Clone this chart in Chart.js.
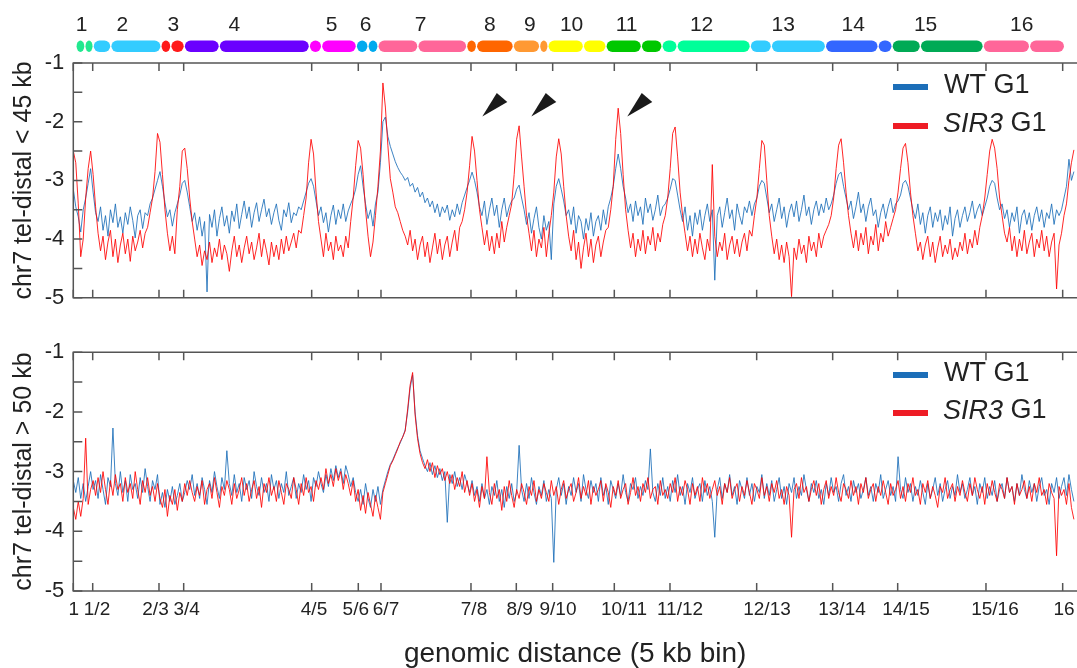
<!DOCTYPE html>
<html><head><meta charset="utf-8">
<script src="https://cdn.jsdelivr.net/npm/chart.js@4.4.1/dist/chart.umd.min.js"></script>
<style>
html,body{margin:0;padding:0;background:#fff;overflow:hidden;width:1077px;height:668px;position:relative}
#c1{position:absolute;left:0;top:0}
#c2{position:absolute;left:0;top:330px}
</style></head><body>
<canvas id="c1" width="1077" height="320"></canvas>
<canvas id="c2" width="1077" height="338"></canvas>
<script>
// ---------- data ----------
const BIN_STEP = 6; // 5-kb bins between successive sampled values
const tickBins = [0,47,207.6,267.4,577.5,690.4,745.4,963.4,1073.2,1161.3,1310.6,1445.5,1655.5,1839.6,1997.1,2211,2396.8];
const tickLabels = ['1','1/2','2/3','3/4','4/5','5/6','6/7','7/8','8/9','9/10','10/11','11/12','12/13','13/14','14/15','15/16','16'];
const tickLabelBins = [1,57.4,199.1,274.7,583.1,684.4,757.5,970.7,1081.4,1174.2,1334.1,1469.7,1680.5,1862.2,2017.2,2232.8,2400];
const yTicks = [-5,-4,-3,-2,-1];
const chrNames = ['1','2','3','4','5','6','7','8','9','10','11','12','13','14','15','16'];
const chrLenKb = [210,830,285,1530,575,265,1085,570,425,710,685,1080,920,815,1115,995];
const cenKb = [109,216,120,428,150,143,488,120,323,433,432,184,258,644,346,567];
const chrLabelKb = [70,566,1190,1937,3128,3544,4217,5065,5554,6064,6737,7654,8653,9509,10395,11570];
const chrColors = ['#22e88f','#33ccff','#ff1a1a','#6a00ff','#ff00ff','#00aaee','#ff6699','#ff6600','#ff9933','#ffff00','#00c800','#00ff99','#33ccff','#3366ff','#00aa55','#ff6699'];
const arrowTips = [[990.8,-1.91],[1109.5,-1.91],[1342,-1.91]];

const topWT = [
-3.15,-3.45,-3.62,-3.88,-3.5,-3.3,-3.05,-2.8,-3.2,-3.55,
-3.7,-3.45,-3.85,-3.6,-3.95,-3.5,-3.72,-3.4,-3.8,-3.62,
-3.9,-3.55,-3.75,-3.45,-3.68,-3.98,-3.6,-3.5,-3.82,-3.55,
-3.6,-3.4,-3.3,-3.15,-3.0,-2.85,-3.1,-3.38,-3.62,-3.5,
-3.78,-3.55,-3.4,-3.25,-3.05,-3.0,-3.2,-3.45,-3.7,-3.55,
-3.85,-3.62,-3.95,-3.7,-4.9,-3.58,-3.8,-3.5,-3.95,-3.65,
-3.45,-3.78,-3.6,-3.9,-3.52,-3.7,-3.4,-3.82,-3.58,-3.35,
-3.65,-3.45,-3.8,-3.55,-3.38,-3.7,-3.5,-3.32,-3.62,-3.48,
-3.75,-3.55,-3.4,-3.68,-3.85,-3.5,-3.62,-3.38,-3.72,-3.55,
-3.6,-3.45,-3.5,-3.35,-3.2,-3.05,-2.97,-3.1,-3.35,-3.6,
-3.45,-3.72,-3.55,-3.88,-3.6,-3.42,-3.75,-3.5,-3.65,-3.4,
-3.7,-3.52,-3.4,-3.3,-3.15,-2.9,-2.75,-3.1,-3.4,-3.65,
-3.5,-3.78,-3.4,-3.2,-2.7,-2.0,-1.92,-2.25,-2.42,-2.55,
-2.68,-2.78,-2.86,-2.92,-3.0,-2.95,-3.1,-3.05,-3.2,-3.12,
-3.28,-3.2,-3.38,-3.3,-3.45,-3.35,-3.55,-3.4,-3.62,-3.45,
-3.55,-3.42,-3.68,-3.5,-3.62,-3.4,-3.58,-3.38,-3.25,-3.12,
-3.0,-2.86,-3.0,-3.2,-3.45,-3.6,-3.35,-3.75,-3.5,-3.3,
-3.6,-3.42,-3.8,-3.5,-3.3,-3.62,-3.45,-3.35,-3.3,-3.15,
-3.08,-3.3,-3.5,-3.75,-3.55,-3.9,-3.65,-3.45,-3.8,-4.0,
-3.6,-3.85,-3.7,-4.35,-3.4,-3.1,-2.97,-3.15,-3.35,-3.6,
-3.5,-3.75,-3.45,-3.9,-3.6,-3.7,-4.0,-3.65,-3.85,-3.55,
-3.95,-3.7,-3.6,-3.85,-3.5,-3.75,-3.45,-3.3,-3.1,-2.8,
-2.55,-2.8,-3.1,-3.3,-3.55,-3.4,-3.7,-3.35,-3.6,-3.45,
-3.75,-3.3,-3.55,-3.4,-3.68,-3.5,-3.25,-3.6,-3.45,-3.4,
-3.3,-3.15,-2.97,-3.0,-3.25,-3.5,-3.7,-3.45,-3.85,-3.6,
-3.95,-3.55,-3.75,-3.5,-3.85,-3.6,-3.4,-3.7,-3.5,-4.7,
-3.6,-3.45,-3.8,-3.55,-3.3,-3.65,-3.5,-3.85,-3.4,-3.6,
-3.75,-3.45,-3.55,-3.35,-3.6,-3.4,-3.3,-3.1,-3.0,-3.05,
-3.3,-3.55,-3.4,-3.7,-3.5,-3.3,-3.65,-3.45,-3.8,-3.55,
-3.4,-3.62,-3.35,-3.7,-3.5,-3.25,-3.6,-3.45,-3.75,-3.5,
-3.35,-3.6,-3.4,-3.55,-3.3,-3.5,-3.4,-3.25,-3.05,-2.9,
-2.86,-3.1,-3.3,-3.5,-3.35,-3.65,-3.45,-3.2,-3.55,-3.4,
-3.7,-3.45,-3.3,-3.6,-3.5,-3.8,-3.55,-3.4,-3.65,-3.45,
-3.3,-3.55,-3.4,-3.35,-3.25,-3.05,-3.0,-3.1,-3.3,-3.5,
-3.65,-3.4,-3.75,-3.55,-3.9,-3.6,-3.45,-3.8,-3.55,-3.7,
-3.5,-3.85,-3.6,-3.75,-3.45,-3.95,-3.65,-3.5,-3.8,-3.6,
-3.45,-3.7,-3.55,-3.35,-3.65,-3.5,-3.4,-3.6,-3.45,-3.3,
-3.1,-3.0,-3.05,-3.3,-3.5,-3.4,-3.65,-3.5,-3.8,-3.55,
-3.7,-3.45,-3.9,-3.6,-3.5,-3.75,-3.55,-3.85,-3.6,-3.45,
-3.7,-3.5,-3.8,-3.55,-3.65,-3.4,-3.75,-3.5,-3.6,-3.5,
-3.3,-3.1,-2.64,-3.0,-2.85];

const topSIR3 = [
-2.5,-2.7,-3.4,-4.3,-4.0,-3.3,-2.8,-2.5,-2.9,-3.45,
-3.9,-4.2,-3.95,-4.35,-4.05,-3.85,-4.3,-4.0,-4.4,-4.1,
-3.9,-4.25,-4.0,-4.38,-3.95,-4.2,-4.05,-3.85,-4.15,-3.9,
-3.8,-3.55,-3.3,-2.85,-2.2,-2.35,-2.9,-3.5,-3.9,-4.2,
-3.95,-4.25,-3.5,-3.1,-2.5,-2.45,-2.8,-3.3,-3.7,-4.0,
-4.3,-4.1,-4.45,-4.2,-4.35,-4.05,-4.4,-4.15,-4.3,-4.0,
-4.35,-4.1,-4.25,-4.55,-4.2,-3.95,-4.3,-4.1,-4.4,-4.15,
-3.95,-4.25,-4.05,-4.35,-4.15,-3.9,-4.3,-4.0,-4.2,-4.44,
-4.05,-4.3,-4.1,-4.35,-4.0,-4.25,-3.95,-4.2,-4.05,-3.9,
-4.15,-3.85,-3.9,-3.6,-3.3,-2.7,-2.3,-2.55,-3.2,-3.7,
-4.0,-4.3,-3.9,-4.2,-4.05,-4.35,-3.95,-4.2,-4.1,-4.3,
-3.95,-4.15,-3.7,-3.3,-2.75,-2.32,-2.45,-2.9,-3.5,-3.95,
-4.3,-4.05,-3.6,-3.1,-2.5,-1.34,-1.75,-2.4,-2.97,-3.2,
-3.45,-3.55,-3.7,-3.85,-3.95,-4.1,-3.85,-4.2,-4.0,-4.35,
-4.1,-3.95,-4.3,-4.05,-4.4,-4.15,-3.9,-4.25,-4.0,-4.35,
-4.1,-3.95,-4.3,-4.05,-3.85,-4.2,-3.8,-3.7,-3.5,-3.2,
-2.75,-2.25,-2.5,-3.0,-3.5,-3.8,-4.1,-3.85,-4.2,-3.95,
-4.25,-3.9,-4.15,-3.7,-4.05,-3.8,-3.6,-3.4,-2.9,-2.3,
-2.07,-2.6,-3.1,-3.6,-3.9,-4.2,-3.85,-4.3,-4.0,-4.15,
-3.8,-4.3,-3.9,-3.6,-3.2,-2.6,-2.29,-2.55,-3.1,-3.6,
-3.95,-4.2,-3.85,-4.35,-4.05,-4.5,-4.15,-3.9,-4.3,-4.0,
-4.4,-4.1,-3.95,-4.3,-4.05,-3.85,-3.8,-3.5,-3.1,-2.3,
-1.77,-2.2,-2.9,-3.5,-3.85,-4.15,-3.9,-4.3,-4.0,-4.2,
-3.85,-4.25,-3.95,-4.1,-3.8,-4.2,-3.9,-4.05,-3.75,-3.6,
-3.3,-2.8,-2.2,-2.09,-2.6,-3.2,-3.6,-3.9,-4.2,-3.95,
-4.3,-4.0,-4.25,-3.9,-4.15,-4.35,-4.0,-4.2,-2.73,-3.95,
-4.3,-4.05,-4.2,-3.9,-4.35,-4.1,-3.95,-4.25,-4.0,-4.3,
-4.05,-3.9,-4.2,-3.85,-3.95,-3.6,-3.3,-2.8,-2.32,-2.4,
-3.0,-3.6,-3.95,-4.25,-4.0,-4.35,-4.1,-4.4,-4.05,-4.3,
-4.98,-4.15,-4.35,-4.0,-4.25,-4.1,-4.4,-3.95,-4.2,-4.05,
-4.3,-3.9,-4.15,-3.95,-3.85,-3.75,-3.6,-3.3,-2.8,-2.4,
-2.29,-2.7,-3.2,-3.6,-3.9,-4.15,-3.85,-4.2,-3.9,-4.1,
-3.8,-4.25,-3.95,-4.1,-3.75,-4.2,-3.9,-4.05,-3.7,-3.95,
-3.8,-3.65,-3.5,-3.2,-2.8,-2.45,-2.37,-2.7,-3.2,-3.6,
-3.9,-4.2,-4.05,-4.35,-4.1,-3.95,-4.3,-4.05,-4.4,-4.15,
-3.95,-4.3,-4.1,-4.25,-4.0,-4.35,-4.15,-4.3,-4.05,-4.2,
-3.9,-4.25,-4.0,-4.15,-3.85,-4.1,-3.8,-3.6,-3.3,-2.9,
-2.5,-2.3,-2.45,-2.8,-3.3,-3.6,-3.9,-4.05,-3.8,-4.2,
-3.95,-4.3,-4.0,-4.2,-3.85,-4.25,-4.05,-3.9,-4.3,-4.0,
-4.15,-3.85,-4.2,-3.95,-4.3,-4.05,-3.9,-4.85,-4.1,-3.9,
-3.6,-3.4,-3.0,-2.7,-2.48];

const botWT = [
-3.15,-3.35,-3.1,-3.45,-3.2,-3.5,-3.25,-3.0,-3.3,-3.15,
-3.45,-3.05,-3.3,-3.55,-3.1,-3.25,-2.27,-3.2,-3.4,-3.0,
-3.35,-3.15,-3.5,-3.05,-3.3,-3.2,-3.45,-3.1,-3.35,-2.95,
-3.25,-3.5,-3.15,-3.3,-3.05,-3.55,-3.35,-3.6,-3.3,-3.5,
-3.25,-3.55,-3.4,-3.2,-3.5,-3.35,-3.15,-3.3,-3.05,-3.4,
-3.2,-3.45,-3.1,-3.3,-3.55,-3.15,-3.35,-3.0,-3.25,-3.45,
-3.1,-3.3,-2.65,-3.2,-3.4,-3.05,-3.35,-3.2,-3.5,-3.1,
-3.3,-3.15,-3.45,-3.0,-3.25,-3.4,-3.1,-3.35,-3.2,-3.5,
-3.05,-3.3,-3.15,-3.45,-3.2,-3.35,-3.0,-3.4,-3.25,-3.1,
-3.45,-3.2,-3.35,-3.05,-3.3,-3.15,-3.5,-3.1,-3.25,-3.0,
-3.2,-3.35,-3.05,-3.25,-2.95,-3.15,-2.9,-3.1,-2.95,-3.2,
-2.9,-3.05,-3.25,-3.1,-3.35,-3.5,-3.3,-3.55,-3.2,-3.45,
-3.6,-3.3,-3.5,-3.25,-3.55,-3.3,-3.15,-3.0,-2.88,-2.8,
-2.7,-2.6,-2.52,-2.42,-2.3,-2.0,-1.6,-1.38,-2.0,-2.4,
-2.65,-2.78,-2.9,-3.0,-2.85,-3.05,-2.9,-3.1,-2.95,-3.15,
-3.0,-3.85,-3.05,-3.2,-3.0,-3.25,-3.1,-3.3,-3.05,-3.2,
-3.35,-3.15,-3.4,-3.25,-3.5,-3.2,-3.45,-3.3,-3.55,-3.25,
-3.4,-3.15,-3.5,-3.3,-3.6,-3.25,-3.45,-3.2,-3.5,-3.35,
-2.56,-3.3,-3.5,-3.2,-3.45,-3.1,-3.35,-3.55,-3.25,-3.4,
-3.15,-3.5,-3.3,-3.45,-4.52,-3.3,-3.1,-3.4,-3.2,-3.55,
-3.25,-3.4,-3.1,-3.35,-3.2,-3.5,-3.05,-3.3,-3.45,-3.15,
-3.35,-3.2,-3.5,-3.1,-3.4,-3.25,-3.55,-3.15,-3.3,-3.45,
-3.2,-3.4,-3.05,-3.35,-3.5,-3.2,-3.3,-3.1,-3.45,-3.25,
-3.4,-3.15,-3.3,-2.62,-3.35,-3.5,-3.2,-3.4,-3.1,-3.45,
-3.25,-3.5,-3.15,-3.35,-3.05,-3.4,-3.25,-3.55,-3.2,-3.35,
-3.1,-3.45,-3.3,-3.2,-3.5,-3.15,-3.4,-3.25,-3.5,-4.1,
-3.3,-3.1,-3.45,-3.2,-3.35,-3.05,-3.4,-3.25,-3.55,-3.15,
-3.3,-3.45,-3.1,-3.4,-3.2,-3.5,-3.25,-3.35,-3.05,-3.45,
-3.2,-3.4,-3.15,-3.5,-3.3,-3.1,-3.45,-3.25,-3.55,-3.2,
-3.35,-3.1,-3.45,-3.25,-3.4,-3.05,-3.3,-3.5,-3.2,-3.35,
-3.15,-3.45,-3.3,-3.55,-3.2,-3.4,-3.1,-3.35,-3.25,-3.5,
-3.2,-3.05,-3.4,-3.25,-3.5,-3.15,-3.35,-3.2,-3.45,-3.3,
-3.1,-3.4,-3.25,-3.5,-3.2,-3.35,-3.05,-3.45,-3.3,-3.15,
-3.4,-3.25,-3.5,-2.75,-3.3,-3.45,-3.1,-3.35,-3.2,-3.5,
-3.25,-3.4,-3.15,-3.35,-3.55,-3.2,-3.45,-3.3,-3.1,-3.4,
-3.2,-3.5,-3.3,-3.15,-3.45,-3.25,-3.4,-3.05,-3.35,-3.2,
-3.45,-3.3,-3.1,-3.4,-3.25,-3.55,-3.2,-3.35,-3.1,-3.45,
-3.25,-3.4,-3.15,-3.5,-3.3,-3.2,-3.45,-3.1,-3.35,-3.25,
-3.5,-3.2,-3.4,-3.05,-3.3,-3.45,-3.15,-3.35,-3.2,-3.5,
-3.25,-3.1,-3.4,-3.3,-3.55,-3.2,-3.35,-3.1,-3.45,-3.25,
-3.1,-3.4,-3.05,-3.3,-3.5];

const botSIR3 = [
-3.6,-3.8,-3.5,-3.75,-3.45,-2.44,-3.55,-3.3,-3.15,-3.4,
-3.1,-3.35,-3.0,-3.3,-3.55,-3.15,-3.4,-3.05,-3.3,-3.2,
-3.5,-3.1,-3.35,-3.2,-3.45,-3.0,-3.3,-3.55,-3.15,-3.35,
-3.1,-3.4,-3.25,-3.5,-3.2,-3.45,-3.6,-3.3,-3.75,-3.4,
-3.55,-3.3,-3.65,-3.35,-3.5,-3.2,-3.4,-3.15,-3.35,-3.5,
-3.25,-3.4,-3.15,-3.55,-3.3,-3.2,-3.45,-3.1,-3.35,-3.6,
-3.25,-3.4,-3.15,-3.3,-3.55,-3.2,-3.45,-3.3,-3.1,-3.4,
-3.2,-3.5,-3.3,-3.15,-3.45,-3.25,-3.6,-3.2,-3.35,-3.1,
-3.4,-3.25,-3.5,-3.15,-3.35,-3.55,-3.2,-3.3,-3.45,-3.1,
-3.3,-3.55,-3.2,-3.4,-3.1,-3.35,-3.25,-3.5,-3.15,-3.3,
-3.1,-3.3,-2.95,-3.2,-3.05,-3.25,-2.95,-3.15,-3.0,-3.3,
-3.05,-3.2,-3.4,-3.15,-3.5,-3.3,-3.65,-3.4,-3.7,-3.35,
-3.55,-3.75,-3.4,-3.6,-3.8,-3.35,-3.2,-3.05,-2.9,-2.82,
-2.72,-2.62,-2.5,-2.42,-2.32,-1.95,-1.55,-1.34,-2.05,-2.45,
-2.7,-2.85,-2.95,-2.8,-3.0,-2.85,-3.1,-2.9,-3.05,-2.95,
-3.15,-3.0,-3.2,-3.05,-3.3,-3.1,-3.25,-3.0,-3.35,-3.15,
-3.4,-3.2,-3.5,-3.3,-3.6,-3.25,-3.45,-2.75,-3.35,-3.55,
-3.2,-3.45,-3.3,-3.65,-3.25,-3.5,-3.15,-3.4,-3.6,-3.3,
-3.45,-3.2,-3.35,-3.55,-3.25,-3.4,-3.15,-3.5,-3.3,-3.45,
-3.2,-3.35,-3.5,-3.15,-3.4,-3.25,-3.55,-3.3,-3.15,-3.45,
-3.3,-3.2,-3.5,-3.35,-3.1,-3.45,-3.25,-3.4,-3.15,-3.55,
-3.25,-3.4,-3.3,-3.15,-3.5,-3.2,-3.35,-3.6,-3.25,-3.4,
-3.15,-3.45,-3.3,-3.2,-3.55,-3.35,-3.1,-3.4,-3.25,-3.5,
-3.2,-3.35,-3.1,-3.45,-3.3,-3.25,-3.55,-3.15,-3.4,-3.3,
-3.45,-3.2,-3.35,-3.1,-3.5,-3.25,-3.4,-3.15,-3.3,-3.55,
-3.2,-3.4,-3.25,-3.5,-3.1,-3.35,-3.2,-3.45,-3.3,-3.15,
-3.4,-3.25,-3.55,-3.2,-3.35,-3.1,-3.45,-3.3,-3.2,-3.5,
-3.25,-3.4,-3.15,-3.35,-3.55,-3.2,-3.3,-3.45,-3.1,-3.4,
-3.25,-3.5,-3.2,-3.35,-3.15,-3.45,-3.3,-3.55,-3.25,-3.4,
-4.1,-3.3,-3.2,-3.45,-3.1,-3.35,-3.25,-3.5,-3.3,-3.15,
-3.4,-3.2,-3.55,-3.3,-3.15,-3.45,-3.25,-3.4,-3.1,-3.35,
-3.5,-3.2,-3.3,-3.45,-3.15,-3.4,-3.25,-3.55,-3.2,-3.35,
-3.1,-3.45,-3.3,-3.2,-3.5,-3.25,-3.4,-3.15,-3.35,-3.55,
-3.2,-3.4,-3.3,-3.15,-3.45,-3.25,-3.5,-3.2,-3.35,-3.1,
-3.4,-3.3,-3.55,-3.2,-3.35,-3.15,-3.45,-3.25,-3.4,-3.6,
-3.25,-3.35,-3.1,-3.45,-3.3,-3.2,-3.5,-3.25,-3.4,-3.15,
-3.35,-3.5,-3.2,-3.4,-3.1,-3.3,-3.45,-3.25,-3.55,-3.2,
-3.4,-3.15,-3.35,-3.5,-3.2,-3.3,-3.45,-3.1,-3.35,-3.25,
-3.55,-3.2,-3.4,-3.3,-3.15,-3.45,-3.25,-3.5,-3.2,-3.35,
-3.1,-3.4,-3.3,-3.55,-3.2,-3.35,-3.45,-4.41,-3.25,-3.4,
-3.3,-3.55,-3.2,-3.6,-3.8];

// ---------- styling / layout ----------
const FONT = '"Liberation Sans", Arial, Helvetica, sans-serif';
const X_MAX = 2431.5;
const BLUE = 'rgba(28,110,184,0.85)';
const RED = 'rgba(255,0,0,0.85)';
const FRAME = '#555';
const TXT = '#222';
const BAR_START_BIN = 6.5, BAR_SCALE = 0.99;

function toPts(arr){ return arr.map((v,i)=>({x:i*BIN_STEP, y:v})); }

function capsule(ctx,x,y,w,h){
  ctx.beginPath();
  if (w <= h) {
    ctx.ellipse(x+w/2, y+h/2, w/2, h/2, 0, 0, Math.PI*2);
  } else {
    const r = h/2;
    ctx.moveTo(x+r,y); ctx.lineTo(x+w-r,y); ctx.arc(x+w-r,y+r,r,-Math.PI/2,Math.PI/2);
    ctx.lineTo(x+r,y+h); ctx.arc(x+r,y+r,r,Math.PI/2,Math.PI*1.5); ctx.closePath();
  }
  ctx.fill();
}

const framePlugin = {
  id:'frame',
  afterDatasetsDraw(chart){
    const {ctx, chartArea:a, scales:{x,y}} = chart;
    ctx.save();
    ctx.strokeStyle = FRAME; ctx.lineWidth = 1.5;
    ctx.beginPath();
    ctx.moveTo(a.right+3, a.top); ctx.lineTo(a.left, a.top); ctx.lineTo(a.left, a.bottom); ctx.lineTo(a.right+3, a.bottom);
    ctx.stroke();
    ctx.beginPath();
    x.ticks.forEach(t=>{ const px = x.getPixelForValue(t.value);
      ctx.moveTo(px,a.bottom); ctx.lineTo(px,a.bottom-8); ctx.moveTo(px,a.top); ctx.lineTo(px,a.top+8); });
    for (let v=y.min; v<=y.max+1e-9; v+=0.5){ const py = y.getPixelForValue(v); ctx.moveTo(a.left,py); ctx.lineTo(a.left+9,py); }
    ctx.stroke();
    ctx.restore();
  }
};

const xLabelPlugin = {
  id:'xLabels',
  afterDraw(chart){
    const {ctx, chartArea:a, scales:{x}} = chart;
    ctx.save();
    ctx.fillStyle = TXT; ctx.font = '19px ' + FONT; ctx.textAlign = 'center'; ctx.textBaseline = 'middle';
    tickLabels.forEach((t,i)=> ctx.fillText(t, x.getPixelForValue(tickLabelBins[i]), a.bottom + 19));
    ctx.restore();
  }
};

const legendPlugin = {
  id:'customLegend',
  afterDraw(chart, args, o){
    const ctx = chart.ctx;
    ctx.save();
    ctx.lineWidth = 6;
    ctx.strokeStyle = '#1c6eb8';
    ctx.beginPath(); ctx.moveTo(893,o.y1); ctx.lineTo(928,o.y1); ctx.stroke();
    ctx.strokeStyle = '#ee1c25';
    ctx.beginPath(); ctx.moveTo(893,o.y2); ctx.lineTo(928,o.y2); ctx.stroke();
    ctx.fillStyle = TXT; ctx.textBaseline = 'middle'; ctx.textAlign = 'left';
    ctx.font = '27px ' + FONT;
    ctx.fillText('WT G1', 944, o.y1-1);
    ctx.font = 'italic 27px ' + FONT;
    ctx.fillText('SIR3', 943, o.y2-2);
    const w = ctx.measureText('SIR3').width;
    ctx.font = '27px ' + FONT;
    ctx.fillText(' G1', 943+w, o.y2-2);
    ctx.restore();
  }
};

const chromPlugin = {
  id:'chromBar',
  afterDraw(chart){
    const {ctx, scales:{x}} = chart;
    const px = kb => x.getPixelForValue(BAR_START_BIN + kb/5*BAR_SCALE);
    ctx.save();
    let cum = 0;
    chrLenKb.forEach((len,k)=>{
      const s = px(cum), c = px(cum+cenKb[k]), e = px(cum+len);
      ctx.fillStyle = chrColors[k];
      capsule(ctx, s+0.6, 40.5, c-s-1.2, 11.5);
      capsule(ctx, c+0.6, 40.5, e-c-1.2, 11.5);
      cum += len;
    });
    ctx.fillStyle = TXT; ctx.font = '21px ' + FONT; ctx.textAlign='center'; ctx.textBaseline='middle';
    chrNames.forEach((n,k)=> ctx.fillText(n, px(chrLabelKb[k]), 25));
    const y = chart.scales.y;
    ctx.fillStyle = '#1a1a1a';
    arrowTips.forEach(([b,v])=>{
      const tx = x.getPixelForValue(b), ty = y.getPixelForValue(v);
      ctx.beginPath(); ctx.moveTo(tx,ty); ctx.lineTo(tx+14.5,ty-23.5); ctx.lineTo(tx+25,ty-14.5); ctx.closePath(); ctx.fill();
    });
    ctx.restore();
  }
};

function makeChart(id, wt, sir, cfg){
  return new Chart(document.getElementById(id), {
    type:'line',
    data:{ datasets:[
      { label:'SIR3 G1', data:toPts(sir), borderColor:RED, borderWidth:1, pointRadius:0, tension:0, order:1 },
      { label:'WT G1', data:toPts(wt), borderColor:BLUE, borderWidth:1, pointRadius:0, tension:0, order:2 }
    ]},
    options:{
      responsive:false, animation:false, devicePixelRatio:1, events:[],
      layout:{ padding:{ top:cfg.padTop, left:0, right:0, bottom:0 } },
      plugins:{ legend:{display:false}, tooltip:{enabled:false}, customLegend:{y1:cfg.leg1, y2:cfg.leg2} },
      scales:{
        x:{ type:'linear', min:0, max:X_MAX,
          grid:{display:false, drawTicks:false}, border:{display:false},
          afterBuildTicks: s => { s.ticks = tickBins.map(v=>({value:v})); },
          afterFit: s => { s.height = cfg.xHeight; },
          ticks:{ display:false },
          title:{ display:cfg.showX, text:'genomic distance (5 kb bin)', color:TXT,
                  font:{family:FONT, size:28, lineHeight:1}, padding:0 }
        },
        y:{ min:-5, max:-1,
          grid:{display:false, drawTicks:false}, border:{display:false},
          afterBuildTicks: s => { s.ticks = yTicks.map(v=>({value:v})); },
          afterFit: s => { s.width = 73.3; },
          ticks:{ padding:9, color:TXT, font:{family:FONT, size:22}, callback:v=>String(v) },
          title:{ display:true, text:cfg.yTitle, color:TXT, font:{family:FONT, size:25, lineHeight:1}, padding:{top:11.5, bottom:0} }
        }
      }
    },
    plugins: cfg.top ? [framePlugin, legendPlugin, chromPlugin] : [framePlugin, legendPlugin, xLabelPlugin]
  });
}

makeChart('c1', topWT, topSIR3, { padTop:63, xHeight:12, showX:false, yTitle:'chr7 tel-distal < 45 kb', leg1:87, leg2:126, top:true });
makeChart('c2', botWT, botSIR3, { padTop:16, xHeight:77, showX:true, yTitle:'chr7 tel-distal > 50 kb', leg1:45, leg2:83, top:false });
</script>
</body></html>
